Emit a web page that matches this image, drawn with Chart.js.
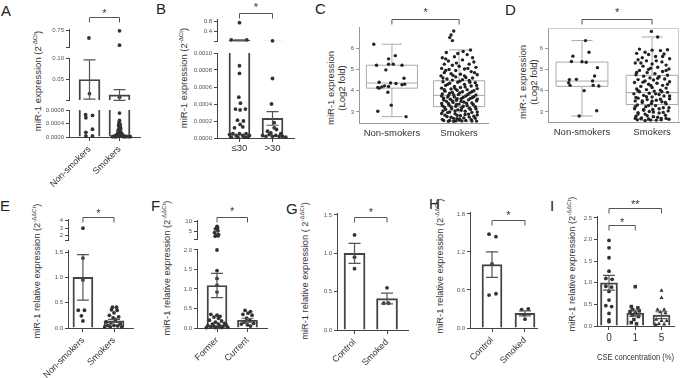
<!DOCTYPE html>
<html>
<head>
<meta charset="utf-8">
<script src="https://cdn.jsdelivr.net/npm/chart.js@4"></script>
<style>
body { margin: 0; background: #fff; }
#fig { position: relative; width: 685px; height: 378px; overflow: hidden; background: #fff; font-family: 'Liberation Sans', Arial, sans-serif; }
.lt { position: absolute; font-size: 15px; line-height: 1; color: #222; }
.yt { position: absolute; transform: translate(-50%, -50%) rotate(-90deg); white-space: nowrap; font-size: 9.3px; line-height: 10.5px; color: #333; text-align: center; }
.yt sup { font-size: 0.65em; line-height: 0; }
canvas { position: absolute; }
</style>
</head>
<body>
<div id="fig">
  <div class="lt" style="left:1px;top:3px">A</div>
  <div class="lt" style="left:156px;top:1px">B</div>
  <div class="lt" style="left:315px;top:1px">C</div>
  <div class="lt" style="left:505px;top:2px">D</div>
  <div class="lt" style="left:0px;top:198px">E</div>
  <div class="lt" style="left:151px;top:198px">F</div>
  <div class="lt" style="left:286px;top:201px">G</div>
  <div class="lt" style="left:429px;top:196px">H</div>
  <div class="lt" style="left:550px;top:198px">I</div>

  <div class="yt" style="left:38px;top:81px;font-size:9.5px">miR-1 expression (2<sup>-ΔCt</sup>)</div>
  <div class="yt" style="left:184px;top:78px;font-size:9.5px">miR-1 expression (2<sup>-ΔCt</sup>)</div>
  <div class="yt" style="left:336px;top:88px;font-size:9.5px">miR-1 expression<br>(Log2 fold)</div>
  <div class="yt" style="left:528px;top:82px;font-size:9.5px">miR-1 expression<br>(Log2 fold)</div>
  <div class="yt" style="left:37px;top:271px">miR-1 relative expression (2<sup>-ΔΔCt</sup>)</div>
  <div class="yt" style="left:167px;top:268px">miR-1 relative expression (2<sup>-ΔΔCt</sup>)</div>
  <div class="yt" style="left:305px;top:271px">miR-1 relative expression ( 2<sup>-ΔΔCt</sup>)</div>
  <div class="yt" style="left:440px;top:266px">miR-1 relative expression (2<sup>-ΔΔCt</sup>)</div>
  <div class="yt" style="left:572px;top:264px">miR-1 relative expression (2<sup>-ΔΔCt</sup>)</div>
</div>

<script>
const FONT = "'Liberation Sans', Arial, sans-serif";
const AX = '#444';
const fig = document.getElementById('fig');

// ---- A: smokers vs non-smokers (2^-dCt, broken axis) ----
const aNames = ['Non-smokers', 'Smokers'];
const aMeans = [0.05, 0.014];
const aSems = [0.0457, 0.0125];
const aPoints = [
  [-0.02, 0.45], [0, 0.017], [-0.13, 0.00066], [0.1, 0.00064], [-0.12, 0.00057], [0.1, 0.00023],
  [-0.12, 0.00014], [-0.12, 0.00003], [0.1, 0.00003],
  [1, 0.73], [1, 0.17], [1, 0.0087], [1, 0.00071], [1, 0.00049],
  [0.98, 0.00042], [1.02, 0.00038], [0.97, 0.00034], [1.03, 0.0003], [0.99, 0.00027], [1.04, 0.00024],
  [0.96, 0.00021], [1.01, 0.00018], [0.95, 0.00015], [1.05, 0.00013], [0.98, 0.00011], [1.08, 0.00009],
  [0.92, 0.00008], [1.02, 0.00007], [1.12, 0.00005], [0.88, 0.00005], [0.97, 0.00004], [1.06, 0.00003],
  [0.8, 0.00002], [0.86, 0.00002], [0.93, 0.00002], [1.0, 0.00002], [1.1, 0.00002], [1.17, 0.00002],
  [1.24, 0.00002], [0.76, 0.00001], [0.83, 0.00001], [0.9, 0.00001], [1.14, 0.00001], [1.2, 0.00001],
  [1.3, 0.00001], [1.36, 0.00001]
];
const aTopTicks = [0.1, 0.75], aTopLabels = ['', '0.75'];
const aMidTicks = [0.0022, 0.05, 0.1], aMidLabels = ['', '0.05', '0.10'];
const aLowTicks = [0, 0.0004, 0.0008], aLowLabels = ['0.0000', '0.0004', '0.0008'];

// ---- B: by pack-years ----
const bNames = ['≤30', '>30'];
const bMeans = [0.025, 0.00023];
const bSems = [0.02, 0.00008];
const bPoints = [
  [0, 0.75], [-0.25, 0.045], [0.22, 0.045], [0, 0.00085], [0, 0.00076], [-0.02, 0.00048], [0.03, 0.00041],
  [-0.12, 0.00034], [0.02, 0.00033], [0.18, 0.00034], [-0.06, 0.00021], [0.12, 0.0002], [0.02, 0.00016],
  [0.1, 0.00013], [-0.15, 0.00012], [-0.3, 0.00004], [-0.2, 0.00005], [-0.1, 0.00003], [0, 0.00005],
  [0.1, 0.00003], [0.2, 0.00005], [0.3, 0.00003], [-0.25, 0.00001], [-0.05, 0.00001], [0.15, 0.00001], [0.25, 0.00001],
  [1, 0.011], [1, 0.0007], [0.97, 0.0004], [1.05, 0.00018], [0.7, 0.00003], [0.8, 0.00002], [0.9, 0.00004],
  [1, 0.00002], [1.1, 0.00003], [1.2, 0.00002], [1.3, 0.00002], [0.85, 0.00008], [1.12, 0.0001],
  [1.05, 0.00012], [0.95, 0.00006], [1.25, 0.00005], [1.4, 0.00001]
];
const bTopTicks = [0.002, 0.4, 0.8], bTopLabels = ['', '0.4', '0.8'];
const bLowTicks = [0, 0.0002, 0.0004, 0.0006, 0.0008, 0.001];
const bLowLabels = ['0.0000', '0.0002', '0.0004', '0.0006', '0.0008', '0.0010'];

// ---- C: cohort 1, log2 fold ----
const groupNames = ['Non-smokers', 'Smokers'];
const logTicks = [3, 4, 5, 6], logLabels = ['3', '4', '5', '6'];
const cQ1 = [4.12, 3.25], cMed = [4.36, 3.78], cQ3 = [5.2, 4.47], cLo = [2.78, 2.56], cHi = [6.19, 5.92];
const cPoints = [
  [-0.27, 6.19], [0.05, 5.65], [-0.05, 5.5], [-0.05, 5.25], [0.02, 5.25], [-0.23, 5.2], [0.15, 5.2],
  [-0.09, 4.98], [0.18, 4.59], [-0.19, 4.4], [-0.02, 4.36], [0.06, 4.34], [0.15, 4.28], [0.19, 4.31],
  [-0.21, 4.15], [-0.15, 4.18], [-0.11, 4.23], [-0.05, 4.2], [-0.19, 4.12], [-0.06, 3.93], [-0.01, 3.32],
  [-0.21, 3.03], [0.21, 2.78],
  [0.92, 6.81], [0.88, 6.62], [0.86, 6.5], [0.9, 6.36], [1.17, 5.92],
  [0.75, 5.55], [0.8, 5.5], [0.93, 5.6], [0.98, 5.75], [1.12, 5.7], [1.2, 5.55], [0.84, 5.4], [1.05, 5.45],
  [1.22, 5.35], [0.78, 5.25], [0.9, 5.2], [1.0, 5.15], [1.15, 5.25], [1.25, 5.1], [0.74, 5.05], [0.85, 5.0],
  [1.08, 5.02], [0.95, 4.95], [1.18, 4.9], [0.78, 4.85], [0.88, 4.8], [1.02, 4.78], [1.27, 4.75], [0.73, 4.7],
  [0.95, 4.65], [1.1, 4.62], [1.2, 4.6], [0.82, 4.55], [1.05, 4.52], [0.9, 4.5], [1.15, 4.48],
  [0.76, 4.42], [0.98, 4.4], [1.24, 4.38], [0.86, 4.35], [1.08, 4.3], [0.8, 4.25], [1.18, 4.22], [0.93, 4.2],
  [1.02, 4.15], [0.74, 4.12], [1.27, 4.1], [0.88, 4.08], [1.12, 4.05], [0.97, 4.02], [1.22, 4.0],
  [0.79, 3.98], [1.05, 3.95], [0.9, 3.92], [1.16, 3.9], [0.75, 3.85], [0.99, 3.82], [1.25, 3.8], [0.84, 3.78],
  [1.1, 3.75], [0.93, 3.7], [1.2, 3.68], [0.77, 3.65], [1.03, 3.62], [0.87, 3.6], [1.14, 3.57], [0.96, 3.55],
  [1.26, 3.52], [0.81, 3.5], [1.07, 3.47], [0.91, 3.45], [1.19, 3.42], [0.74, 3.4], [1.0, 3.37], [0.85, 3.33],
  [1.12, 3.3], [0.95, 3.27], [1.24, 3.25], [0.78, 3.22], [1.04, 3.2], [0.89, 3.15], [1.17, 3.12], [0.98, 3.1],
  [0.76, 3.05], [1.09, 3.03], [1.27, 3.0], [0.83, 2.97], [0.94, 2.92], [1.14, 2.9], [0.79, 2.85], [1.02, 2.82],
  [1.22, 2.8], [0.88, 2.75], [1.07, 2.72], [0.97, 2.68], [0.75, 2.65], [1.18, 2.64], [0.86, 2.6], [1.04, 2.58],
  [1.26, 2.57], [0.92, 2.56],
  [0.81, 5.8], [1.06, 5.85], [0.96, 5.3], [1.13, 5.05], [0.8, 4.95], [1.23, 4.85], [0.91, 4.72], [1.08, 4.7],
  [0.76, 4.6], [1.16, 4.4], [1.01, 4.45], [0.83, 4.3], [1.26, 4.25], [0.94, 4.1], [1.09, 4.18], [0.78, 4.05],
  [1.19, 3.95], [0.86, 3.88], [1.01, 3.9], [1.13, 3.82], [0.74, 3.75], [0.92, 3.8], [1.22, 3.72], [1.06, 3.68],
  [0.83, 3.7], [0.97, 3.62], [1.17, 3.64], [0.77, 3.56], [1.27, 3.6], [0.9, 3.52], [1.03, 3.5], [1.11, 3.41],
  [0.84, 3.4], [0.96, 3.35], [1.21, 3.35], [0.75, 3.3], [1.06, 3.27], [0.88, 3.24], [1.15, 3.18], [1.25, 3.15],
  [0.8, 3.12], [0.94, 3.05], [1.03, 3.08], [1.19, 2.98], [0.86, 3.0], [0.74, 2.93], [1.09, 2.88], [1.27, 2.86],
  [0.97, 2.84], [0.82, 2.78], [1.15, 2.76], [0.92, 2.7], [1.01, 2.66], [1.24, 2.7], [0.77, 2.6], [1.1, 2.6],
  [0.95, 2.58], [0.84, 2.56], [1.19, 2.57], [1.0, 2.62]
];

// ---- D: cohort 2, log2 fold ----
const dQ1 = [4.2, 3.35], dMed = [4.45, 3.91], dQ3 = [5.34, 4.72], dLo = [2.81, 2.6], dHi = [6.35, 6.52];
const dPoints = [
  [0.05, 6.35], [0.1, 5.8], [-0.13, 5.62], [-0.15, 5.37], [0, 5.36], [0.06, 5.33], [0.22, 5.08], [0.18, 4.69],
  [-0.18, 4.52], [-0.08, 4.53], [0.15, 4.45], [-0.19, 4.37], [-0.17, 4.25], [0.16, 4.25], [0.24, 4.22],
  [0.03, 4.0], [0.21, 3.06], [-0.04, 2.81],
  [0.99, 6.78], [1.08, 6.52], [0.82, 5.95], [1.0, 5.9], [1.12, 5.88], [1.22, 5.92], [0.78, 5.75], [0.95, 5.7],
  [1.17, 5.72], [0.86, 5.55], [1.05, 5.6], [1.25, 5.5], [0.8, 5.45], [0.92, 5.4], [1.14, 5.35], [0.76, 5.3],
  [1.0, 5.25], [1.2, 5.2], [0.87, 5.15], [1.08, 5.1], [0.98, 5.05], [1.24, 5.02], [0.82, 4.95], [1.15, 4.9],
  [0.93, 4.85], [1.04, 4.8], [0.77, 4.75], [1.22, 4.72], [0.88, 4.68], [1.1, 4.65], [0.97, 4.6], [1.18, 4.55],
  [0.8, 4.52], [1.02, 4.5], [0.9, 4.45], [1.25, 4.42], [0.75, 4.38], [1.07, 4.35], [0.95, 4.3], [1.15, 4.25],
  [0.84, 4.2], [1.0, 4.15], [1.2, 4.12], [0.78, 4.08], [0.92, 4.05], [1.12, 4.02], [1.03, 3.98], [0.82, 3.95],
  [1.22, 3.92], [0.96, 3.88], [0.74, 3.85], [1.1, 3.82], [0.88, 3.78], [1.17, 3.75], [1.0, 3.7], [0.8, 3.65],
  [1.25, 3.62], [0.93, 3.58], [1.06, 3.55], [0.76, 3.52], [1.14, 3.48], [0.86, 3.45], [0.99, 3.4], [1.2, 3.38],
  [0.79, 3.33], [1.05, 3.3], [0.91, 3.25], [1.16, 3.2], [0.75, 3.15], [1.01, 3.12], [0.88, 3.08], [1.23, 3.05],
  [0.96, 3.02], [0.8, 2.97], [1.1, 2.95], [0.9, 2.9], [1.19, 2.85], [0.77, 2.8], [1.02, 2.78], [0.85, 2.72],
  [1.13, 2.7], [0.95, 2.67], [1.24, 2.66], [0.79, 2.63], [1.06, 2.62], [0.9, 2.6],
  [0.9, 5.8], [1.15, 5.6], [0.84, 5.3], [1.06, 5.4], [0.95, 5.0], [1.2, 4.95], [0.78, 4.85], [1.08, 4.58],
  [0.87, 4.4], [1.22, 4.3], [0.98, 4.25], [0.8, 4.0], [1.14, 3.95], [1.05, 3.85], [0.92, 3.72], [1.25, 3.75],
  [0.77, 3.68], [1.12, 3.6], [0.86, 3.52], [1.0, 3.5], [1.19, 3.45], [0.95, 3.3], [0.76, 3.25], [1.1, 3.15],
  [0.88, 3.12], [1.24, 3.2], [1.02, 3.0], [0.8, 2.9], [1.16, 2.98], [0.93, 2.82], [1.08, 2.75], [0.84, 2.68],
  [1.2, 2.7], [0.98, 2.62], [0.76, 2.7], [1.13, 2.63]
];

// ---- E: relative expression, smokers vs non-smokers ----
const eNames = ['Non-smokers', 'Smokers'];
const eMeans = [1.0, 0.14];
const eSems = [0.45, 0.03];
const ePoints = [
  [0, 3.0], [0, 1.38], [0, 0.95], [-0.15, 0.35], [0.05, 0.35], [-0.05, 0.24], [0, 0.14],
  [0.95, 0.41], [1.08, 0.41], [0.92, 0.36], [1.1, 0.35], [1.0, 0.3], [0.85, 0.25], [1.15, 0.22], [0.97, 0.2],
  [1.05, 0.17], [0.75, 0.12], [0.9, 0.1], [1.2, 0.08], [0.8, 0.05], [1.0, 0.05], [1.12, 0.04], [0.7, 0.02],
  [0.88, 0.02], [1.25, 0.02]
];
const eTopTicks = [1.375, 2, 3, 4], eTopLabels = ['', '2', '3', '4'];
const eLowTicks = [0, 0.5, 1, 1.5], eLowLabels = ['0.0', '0.5', '1.0', '1.5'];

// ---- F: former vs current ----
const fNames = ['Former', 'Current'];
const fMeans = [1.09, 0.2];
const fSems = [0.31, 0.05];
const fPoints = [
  [0, 7.7], [0.02, 7.0], [-0.05, 6.4], [0.03, 5.5], [-0.08, 4.6], [0.05, 3.6], [-0.03, 3.3], [0.04, 3.0],
  [-0.06, 2.8], [0, 2.0], [0, 1.47], [0, 1.27], [0, 1.1], [0, 0.92],
  [-0.2, 0.35], [0, 0.33], [0.1, 0.3], [-0.1, 0.28], [0.05, 0.25], [-0.25, 0.2], [0.15, 0.18], [-0.05, 0.15],
  [0.25, 0.12], [-0.15, 0.1], [0.05, 0.1], [0.3, 0.08], [-0.3, 0.06], [-0.1, 0.05], [0.1, 0.05], [0.2, 0.04],
  [-0.2, 0.03], [0, 0.02], [0.35, 0.02], [-0.35, 0.01], [0.15, 0.01], [-0.05, 0.01],
  [0.92, 0.45], [1.1, 0.42], [1.02, 0.38], [0.85, 0.35], [1.15, 0.33], [0.97, 0.25], [1.08, 0.2], [0.9, 0.15],
  [1.2, 0.12], [0.8, 0.1], [1.0, 0.08], [1.1, 0.05]
];
const fTopTicks = [1.36, 5, 10], fTopLabels = ['', '5', '10'];
const fLowTicks = [0, 0.5, 1, 1.5, 2], fLowLabels = ['0.0', '0.5', '1.0', '1.5', '2.0'];

// ---- G / H: control vs smoked ----
const ghNames = ['Control', 'Smoked'];
const gMeans = [1.0, 0.41], gSems = [0.13, 0.07];
const gPoints = [[0, 1.24], [0, 0.95], [0, 0.8], [1, 0.55], [0.9, 0.35], [1.05, 0.35]];
const gTicks = [0, 0.5, 1, 1.5], gLabels = ['0.0', '0.5', '1.0', '1.5'];
const hMeans = [1.0, 0.23], hSems = [0.2, 0.04];
const hPoints = [[-0.09, 1.48], [0.12, 1.44], [0, 1.01], [-0.09, 0.52], [0.12, 0.54], [0.9, 0.29], [1.1, 0.3], [0.98, 0.21], [1.0, 0.14]];
const hTicks = [0, 0.6, 1.2, 1.8], hLabels = ['0.0', '0.6', '1.2', '1.8'];

// ---- I: CSE concentration ----
const iNames = ['0', '1', '5'];
const iMeans = [1.0, 0.3, 0.25], iSems = [0.17, 0.07, 0.08];
const iPoints0 = [[0, 1.98], [0, 1.81], [0, 1.58], [0, 1.27], [-0.12, 1.1], [0.12, 1.08], [-0.12, 0.92], [0.1, 0.9],
  [0, 0.8], [0, 0.6], [-0.12, 0.47], [0.1, 0.45], [0, 0.29], [0, 0.14], [0, 0.1]];
const iPoints1 = [[1, 0.91], [0.85, 0.45], [1.1, 0.42], [0.9, 0.38], [1.15, 0.35], [0.8, 0.33], [1.0, 0.3],
  [0.88, 0.25], [1.12, 0.22], [0.95, 0.15], [0.85, 0.08], [1.05, 0.05]];
const iPoints5 = [[2, 0.82], [2, 0.65], [1.85, 0.38], [2.1, 0.38], [1.95, 0.32], [2.15, 0.3], [1.8, 0.15],
  [2.0, 0.12], [2.2, 0.12], [1.9, 0.05], [2.1, 0.04], [1.78, 0.03]];
const iTicks = [0, 0.5, 1, 1.5, 2, 2.5], iLabels = ['0.0', '0.5', '1.0', '1.5', '2.0', '2.5'];

// ---------- helpers ----------
function makeCanvas(rect, pad) {
  const [x, y, w, h] = rect;
  const c = document.createElement('canvas');
  const W = w + pad.l + pad.r, H = h + pad.t + pad.b;
  c.width = W; c.height = H;
  c.style.left = (x - pad.l) + 'px';
  c.style.top = (y - pad.t) + 'px';
  c.style.width = W + 'px';
  c.style.height = H + 'px';
  fig.appendChild(c);
  return c;
}

function errBars(means, sems, keep) {
  return {
    id: 'errBars',
    afterDatasetsDraw(chart) {
      const { ctx, chartArea: a } = chart, x = chart.scales.x, y = chart.scales.y;
      ctx.save();
      ctx.beginPath();
      ctx.rect(a.left, a.top - 1, a.right - a.left, a.bottom - a.top + 2);
      ctx.clip();
      ctx.strokeStyle = '#555';
      ctx.lineWidth = 1.2;
      means.forEach((m, i) => {
        if (m < keep[0] || m > keep[1]) return;
        const px = x.getPixelForValue(i);
        const hi = y.getPixelForValue(m + sems[i]), lo = y.getPixelForValue(m - sems[i]);
        ctx.beginPath();
        ctx.moveTo(px, hi); ctx.lineTo(px, lo);
        ctx.moveTo(px - 6, hi); ctx.lineTo(px + 6, hi);
        ctx.moveTo(px - 6, lo); ctx.lineTo(px + 6, lo);
        ctx.stroke();
      });
      ctx.restore();
    }
  };
}

function brackets(list) {
  return {
    id: 'brackets',
    afterDraw(chart) {
      const { ctx, chartArea: a } = chart, x = chart.scales.x;
      ctx.save();
      ctx.strokeStyle = '#555';
      ctx.lineWidth = 1;
      ctx.fillStyle = '#333';
      ctx.font = '11px ' + FONT;
      ctx.textAlign = 'center';
      ctx.textBaseline = 'middle';
      list.forEach(b => {
        const x1 = x.getPixelForValue(b.from), x2 = x.getPixelForValue(b.to);
        const y = Math.round(a.top - b.dy) + 0.5;
        ctx.beginPath();
        ctx.moveTo(x1, y + 5); ctx.lineTo(x1, y); ctx.lineTo(x2, y); ctx.lineTo(x2, y + 5);
        ctx.stroke();
        ctx.fillText(b.text, (x1 + x2) / 2, y - b.off);
      });
      ctx.restore();
    }
  };
}

function boxes(q1s, meds, q3s, los, his, halfW, frame) {
  return {
    id: 'boxes',
    beforeDatasetsDraw(chart) {
      const { ctx, chartArea: a } = chart, x = chart.scales.x, y = chart.scales.y;
      ctx.save();
      ctx.lineWidth = 1;
      if (frame) {
        ctx.strokeStyle = '#ccc';
        ctx.beginPath();
        ctx.moveTo(a.left, a.top + 0.5); ctx.lineTo(a.right - 0.5, a.top + 0.5); ctx.lineTo(a.right - 0.5, a.bottom);
        ctx.stroke();
      }
      ctx.strokeStyle = '#aaa';
      meds.forEach((m, i) => {
        const l = x.getPixelForValue(i - halfW), r = x.getPixelForValue(i + halfW), c = x.getPixelForValue(i);
        const cl = x.getPixelForValue(i - 0.15), cr = x.getPixelForValue(i + 0.15);
        const p1 = y.getPixelForValue(q1s[i]), p3 = y.getPixelForValue(q3s[i]), pm = y.getPixelForValue(m);
        const pl = y.getPixelForValue(los[i]), ph = y.getPixelForValue(his[i]);
        ctx.beginPath();
        ctx.rect(l, p3, r - l, p1 - p3);
        ctx.moveTo(l, pm); ctx.lineTo(r, pm);
        ctx.moveTo(c, p3); ctx.lineTo(c, ph);
        ctx.moveTo(cl, ph); ctx.lineTo(cr, ph);
        ctx.moveTo(c, p1); ctx.lineTo(c, pl);
        ctx.moveTo(cl, pl); ctx.lineTo(cr, pl);
        ctx.stroke();
      });
      ctx.restore();
    }
  };
}

function xScale(p, show, height) {
  return {
    type: 'linear', min: p.xmin, max: p.xmax, offset: false, display: show,
    afterBuildTicks: s => { s.ticks = p.names.map((n, i) => ({ value: i })); },
    ticks: {
      autoSkip: false, callback: (v, i) => p.names[i],
      font: { size: p.xFont || 9, family: FONT }, color: '#333',
      minRotation: p.rot || 0, maxRotation: p.rot || 0, padding: p.xPad === undefined ? 3 : p.xPad
    },
    grid: { drawOnChartArea: false, offset: false, drawTicks: p.xTicks !== false, tickLength: 4, color: p.axis || AX },
    border: { color: p.axis || AX, width: 1 },
    title: p.xTitle ? { display: true, text: p.xTitle, font: { size: 9, family: FONT }, color: '#333', padding: 0 } : { display: false },
    afterFit: s => { s.height = height; s.paddingLeft = 0; s.paddingRight = 0; }
  };
}

function yScale(range, ticks, labels, width, axis) {
  return {
    type: 'linear', min: range[0], max: range[1], beginAtZero: false,
    afterBuildTicks: s => { s.ticks = ticks.map(v => ({ value: v })); },
    ticks: { autoSkip: false, callback: (v, i) => labels[i], font: { size: 6, family: FONT }, color: '#555', padding: 2 },
    grid: { drawOnChartArea: false, tickLength: 3, color: axis || AX },
    border: { color: axis || AX, width: 1 },
    afterFit: s => { s.width = width; s.paddingTop = 0; s.paddingBottom = 0; }
  };
}

// one bar panel, possibly split into several y segments (broken axis)
function barPanel(p) {
  p.segs.forEach((g, k) => {
    const last = k === p.segs.length - 1;
    const extra = last ? (p.extraL || 0) : 0;
    const pad = { l: p.padL + extra, r: p.padR || 4, t: g.t || 3, b: last ? p.xH : 2 };
    const inSeg = q => q[1] >= g.keep[0] && q[1] <= g.keep[1];
    const groups = p.groups || [{ pts: p.points, style: 'circle', r: 1.9 }];
    const datasets = groups.map(gr => ({
      type: 'scatter',
      data: gr.pts.filter(inSeg).map(q => ({ x: q[0], y: q[1] })),
      pointStyle: gr.style, pointRadius: gr.r, pointBackgroundColor: '#333', pointBorderWidth: 0,
      clip: false, order: 1
    }));
    datasets.push({
      type: 'bar',
      data: p.means.map((m, i) => ({ x: i, y: m })),
      barThickness: p.barW, backgroundColor: 'rgba(255,255,255,0)', borderColor: '#444',
      borderWidth: 1.3, borderSkipped: 'start', clip: 0, order: 2
    });
    const plugins = [errBars(p.means, p.sems, g.keep)];
    if (k === 0 && p.sig) plugins.push(brackets(p.sig));
    new Chart(makeCanvas(g.rect, pad), {
      type: 'bar',
      data: { datasets },
      options: {
        responsive: false, animation: false, events: [], devicePixelRatio: 1,
        layout: { padding: { left: extra, right: pad.r, top: pad.t, bottom: last ? 0 : pad.b } },
        plugins: { legend: { display: false }, tooltip: { enabled: false } },
        scales: { x: xScale(p, last, pad.b), y: yScale(g.range, g.ticks, g.labels, p.padL) }
      },
      plugins
    });
  });
}

function boxPanel(p) {
  const pad = { l: 16, r: p.padR, t: p.padT, b: 20 };
  new Chart(makeCanvas(p.rect, pad), {
    type: 'scatter',
    data: {
      datasets: [{
        data: p.points.map(q => ({ x: q[0], y: q[1] })),
        pointRadius: 1.7, pointBackgroundColor: '#222', pointBorderWidth: 0, clip: false
      }]
    },
    options: {
      responsive: false, animation: false, events: [], devicePixelRatio: 1,
      layout: { padding: { left: 0, right: pad.r, top: pad.t, bottom: 0 } },
      plugins: { legend: { display: false }, tooltip: { enabled: false } },
      scales: {
        x: xScale({ xmin: p.xmin, xmax: p.xmax, names: groupNames, xFont: 9.5, xPad: 5, xTicks: false, axis: '#999' }, true, pad.b),
        y: yScale(p.range, logTicks, logLabels, pad.l, '#999')
      }
    },
    plugins: [boxes(p.q1, p.med, p.q3, p.lo, p.hi, p.halfW, p.frame), brackets(p.sig)]
  });
}

// ---------- panels ----------
barPanel({
  names: aNames, means: aMeans, sems: aSems, points: aPoints,
  xmin: -0.683, xmax: 1.683, barW: 21, rot: 45, padL: 28, extraL: 20, xH: 52,
  sig: [{ from: 0, to: 1, text: '*', dy: 11.7, off: 3.8 }],
  segs: [
    { rect: [69, 29, 71, 20], range: [0.1, 0.8], ticks: aTopTicks, labels: aTopLabels, keep: [0.105, 1], t: 27 },
    { rect: [69, 57, 71, 45], range: [0.0022, 0.1], ticks: aMidTicks, labels: aMidLabels, keep: [0.001, 0.105] },
    { rect: [69, 109, 71, 28], range: [0, 0.0008], ticks: aLowTicks, labels: aLowLabels, keep: [0, 0.001] }
  ]
});

barPanel({
  names: bNames, means: bMeans, sems: bSems, points: bPoints,
  xmin: -0.68, xmax: 1.65, barW: 21, rot: 0, xFont: 9.5, xPad: 1, padL: 28, xH: 22,
  sig: [{ from: 0, to: 1, text: '*', dy: 5.7, off: 6 }],
  segs: [
    { rect: [217, 19, 77, 24], range: [0.002, 0.9], ticks: bTopTicks, labels: bTopLabels, keep: [0.005, 1], t: 19 },
    { rect: [217, 52, 77, 86], range: [0, 0.001], ticks: bLowTicks, labels: bLowLabels, keep: [0, 0.005] }
  ]
});

boxPanel({
  rect: [359, 27, 129, 96], range: [2.48, 7.0], xmin: -0.49, xmax: 1.43, padT: 27, padR: 4,
  points: cPoints, q1: cQ1, med: cMed, q3: cQ3, lo: cLo, hi: cHi, halfW: 0.38, frame: false,
  sig: [{ from: 0, to: 1, text: '*', dy: 7.7, off: 6.5 }]
});

boxPanel({
  rect: [548, 28, 132, 94], range: [2.53, 6.94], xmin: -0.485, xmax: 1.384, padT: 28, padR: 3,
  points: dPoints, q1: dQ1, med: dMed, q3: dQ3, lo: dLo, hi: dHi, halfW: 0.37, frame: true,
  sig: [{ from: 0, to: 1, text: '*', dy: 9, off: 6.2 }]
});

barPanel({
  names: eNames, means: eMeans, sems: eSems, points: ePoints,
  xmin: -0.48, xmax: 1.61, barW: 20, rot: 45, padL: 20, extraL: 28, xH: 50,
  sig: [{ from: 0, to: 1, text: '*', dy: 1.7, off: 3.5 }],
  segs: [
    { rect: [68, 219, 65, 23], range: [1.375, 4.25], ticks: eTopTicks, labels: eTopLabels, keep: [1.6, 10], t: 16 },
    { rect: [68, 249, 65, 79], range: [0, 1.54], ticks: eLowTicks, labels: eLowLabels, keep: [0, 1.6] }
  ]
});

barPanel({
  names: fNames, means: fMeans, sems: fSems, points: fPoints,
  xmin: -0.656, xmax: 1.64, barW: 20, rot: 45, padL: 20, extraL: 20, xH: 50,
  sig: [{ from: 0, to: 1, text: '*', dy: 3.3, off: 5.6 }],
  segs: [
    { rect: [197, 220, 70, 21], range: [1.36, 10.9], ticks: fTopTicks, labels: fTopLabels, keep: [2.1, 20], t: 16 },
    { rect: [197, 248, 70, 80], range: [0, 2.025], ticks: fLowTicks, labels: fLowLabels, keep: [0, 2.1] }
  ]
});

barPanel({
  names: ghNames, means: gMeans, sems: gSems, points: gPoints,
  xmin: -0.54, xmax: 1.646, barW: 21, rot: 45, padL: 20, extraL: 15, xH: 50,
  sig: [{ from: 0, to: 1, text: '*', dy: -4.3, off: 4.5 }],
  segs: [{ rect: [337, 213, 71, 117], range: [0, 1.526], ticks: gTicks, labels: gLabels, keep: [0, 5], t: 12 }]
});

barPanel({
  names: ghNames, means: hMeans, sems: hSems, points: hPoints,
  xmin: -0.667, xmax: 1.364, barW: 20, rot: 45, padL: 20, extraL: 15, xH: 50,
  sig: [{ from: 0, to: 1, text: '*', dy: -8, off: 4.9 }],
  segs: [{ rect: [470, 212, 67, 116], range: [0, 1.83], ticks: hTicks, labels: hLabels, keep: [0, 5], t: 12 }]
});

barPanel({
  names: iNames, means: iMeans, sems: iSems,
  groups: [
    { pts: iPoints0, style: 'circle', r: 1.9 },
    { pts: iPoints1, style: 'rect', r: 2.5 },
    { pts: iPoints5, style: 'triangle', r: 2.4 }
  ],
  xmin: -0.457, xmax: 2.476, barW: 17, rot: 0, xFont: 10, xPad: 2, padL: 20, padR: 8, xH: 37,
  xTitle: 'CSE concentration (%)',
  sig: [
    { from: 0, to: 1, text: '*', dy: -9, off: 2.2 },
    { from: 0, to: 2, text: '**', dy: 8.3, off: 3.2 }
  ],
  segs: [{ rect: [597, 216, 77, 110], range: [0, 2.546], ticks: iTicks, labels: iLabels, keep: [0, 5], t: 18 }]
});
</script>
</body>
</html>
